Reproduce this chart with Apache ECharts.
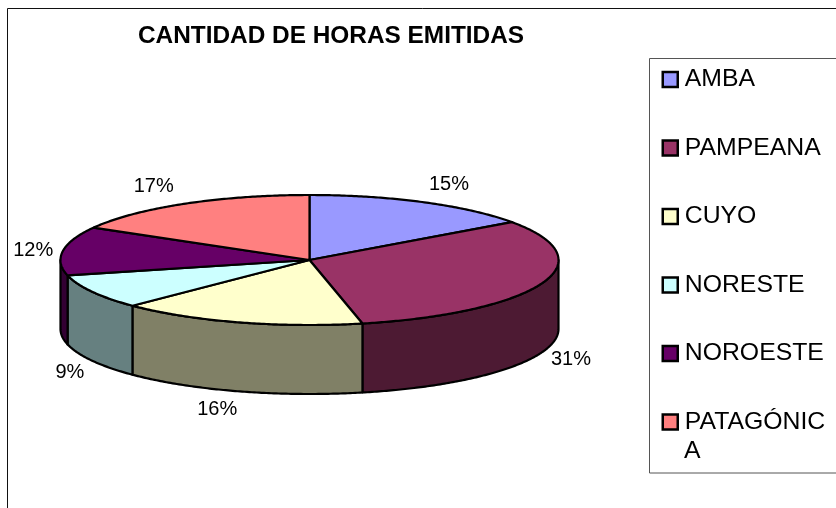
<!DOCTYPE html>
<html>
<head>
<meta charset="utf-8">
<style>html,body{margin:0;padding:0;background:#fff}#c{width:836px;height:508px}</style>
<script src="https://cdn.jsdelivr.net/npm/echarts@6/dist/echarts.min.js"></script>
</head>
<body>
<div id="c"></div>
<script>
const titleText = 'CANTIDAD DE HORAS EMITIDAS';
const categories = ['AMBA', 'PAMPEANA', 'CUYO', 'NORESTE', 'NOROESTE', 'PATAGÓNICA'];
const percentages = [15.1, 31.49, 16, 8.6, 12.1, 16.71];
const topColors = ['#9999FF', '#993366', '#FFFFCC', '#CCFFFF', '#660066', '#FF8080'];
const sideColors = ['#4D4D80', '#4D1A33', '#808066', '#668080', '#330033', '#804040'];
// The last legend entry wraps inside its box in the reference
const wrappedFirstLine = 'PATAGÓNIC';
const wrappedSecondLine = 'A';

// Layout of the tilted pie
const cx = 309.5, cy = 260, rx = 249, ry = 65, depth = 69;
const labelNudges = [[12, 2], [1, -1], [-13, -3], [4, 1], [0, 3], [-16, 2]];
const FRONT_START = Math.PI / 2, FRONT_END = Math.PI * 3 / 2;
const total = percentages.reduce((a, b) => a + b, 0);

function pt(a, dy) { return [cx + rx * Math.sin(a), cy - ry * Math.cos(a) + (dy || 0)]; }
function arcPts(a0, a1, dy) {
  const n = Math.max(2, Math.ceil(Math.abs(a1 - a0) / 0.01));
  const out = [];
  for (let i = 0; i <= n; i++) out.push(pt(a0 + (a1 - a0) * i / n, dy));
  return out;
}

function renderSlice(index) {
  return function (params, api) {
    const value = api.value(0);
    let before = 0;
    for (let i = 0; i < index; i++) before += percentages[i];
    const a0 = before / total * Math.PI * 2;
    const a1 = (before + value) / total * Math.PI * 2;
    const children = [];
    const s0 = Math.max(a0, FRONT_START), s1 = Math.min(a1, FRONT_END);
    if (s1 > s0) {
      const pts = arcPts(s0, s1, 0).concat(arcPts(s1, s0, depth));
      children.push({
        type: 'polygon', shape: { points: pts },
        style: { fill: sideColors[index], stroke: '#000', lineWidth: 2.2, lineJoin: 'round' }
      });
    }
    const top = [[cx, cy]].concat(arcPts(a0, a1, 0));
    children.push({
      type: 'polygon', shape: { points: top },
      style: { fill: topColors[index], stroke: '#000', lineWidth: 2.2, lineJoin: 'round' }
    });
    const mid = (a0 + a1) / 2;
    const front = Math.cos(mid) < 0;
    const lp = pt(mid, front ? depth : 0);
    const nudge = labelNudges[index];
    children.push({
      type: 'text', z2: 10,
      style: {
        text: value.toFixed(0) + '%',
        x: lp[0] + Math.sin(mid) * 30 + nudge[0],
        y: lp[1] - Math.cos(mid) * 22 + nudge[1],
        align: 'center', verticalAlign: 'middle',
        fontFamily: 'Liberation Sans', fontSize: 20, fill: '#000'
      }
    });
    return { type: 'group', children };
  };
}

const chart = echarts.init(document.getElementById('c'), null, { renderer: 'canvas' });
chart.setOption({
  animation: false,
  backgroundColor: '#fff',
  color: topColors,
  title: {
    text: titleText, left: 326, top: 19, textAlign: 'center',
    textStyle: { fontFamily: 'Liberation Sans', fontWeight: 'bold', fontSize: 24.4, color: '#000' }
  },
  legend: {
    orient: 'vertical', left: 649.5, top: 58.5,
    padding: [6, 0, 36, 12],
    backgroundColor: '#fff', borderColor: '#555', borderWidth: 1, borderRadius: 0,
    itemWidth: 15, itemHeight: 15, itemGap: 38.5,
    icon: 'rect',
    itemStyle: { borderColor: '#000', borderWidth: 2.5 },
    selectedMode: false,
    formatter: name => name === categories[5] ? wrappedFirstLine : name,
    textStyle: {
      fontFamily: 'Liberation Sans', fontSize: 24.8, color: '#000', lineHeight: 30,
      width: 170, padding: [0, 0, 0, 2]
    },
    data: categories
  },
  graphic: [{
    type: 'rect', silent: true, z: -1,
    shape: { x: 7.5, y: 8.5, width: 900, height: 600 },
    style: { fill: 'none', stroke: '#111', lineWidth: 1 }
  }, {
    type: 'text', silent: true, z: 20, x: 684, y: 451,
    style: {
      text: wrappedSecondLine, fontFamily: 'Liberation Sans', fontSize: 24.8, fill: '#000',
      align: 'left', verticalAlign: 'middle'
    }
  }],
  series: categories.map((name, i) => ({
    type: 'custom', name,
    coordinateSystem: 'none',
    itemStyle: { color: topColors[i] },
    renderItem: renderSlice(i),
    data: [[percentages[i]]]
  }))
});
</script>
</body>
</html>
